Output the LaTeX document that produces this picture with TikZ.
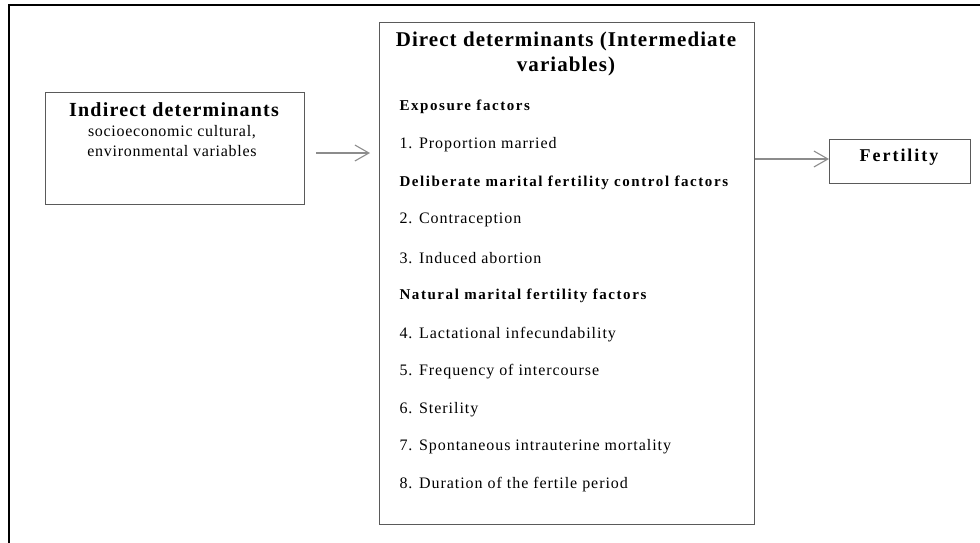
\documentclass[tikz,border=0pt]{standalone}
\usepackage{fontspec}
\setmainfont{Liberation Serif}
% spaced variants of the serif face
\newfontfamily\itemfont[LetterSpace=6]{Liberation Serif}
\newfontfamily\grpfont[LetterSpace=10.5]{Liberation Serif}
\newfontfamily\subfont[LetterSpace=4.5]{Liberation Serif}
\newfontfamily\titlefont[LetterSpace=5]{Liberation Serif}
\newfontfamily\indfont[LetterSpace=6]{Liberation Serif}
\newfontfamily\ferfont[LetterSpace=11]{Liberation Serif}
\usetikzlibrary{arrows.meta}
\definecolor{boxline}{HTML}{5A5A5A}
\definecolor{arrowgray}{HTML}{8C8C8C}
\begin{document}
\begin{tikzpicture}[x=1pt,y=-1pt,
  box/.style={draw=boxline,line width=1.1pt,inner sep=0pt,anchor=north west},
  sub/.style={font=\subfont\fontsize{16}{20}\selectfont,align=center},
  groupname/.style={anchor=west,font=\grpfont\bfseries\fontsize{15}{16}\selectfont},
  item/.style={anchor=west,font=\itemfont\fontsize{16}{16}\selectfont},
  flow/.style={draw=arrowgray,line width=1.1pt,-{Straight Barb[length=14pt,width=16pt,line width=1.1pt]}}]
\useasboundingbox (0,0) rectangle (980,542);
% outer frame (top and left edges only)
\draw[line width=2.2pt] (9,543) -- (9,5) -- (981,5);

% boxes
\node[box,minimum width=259pt,minimum height=112pt] (ind) at (45,92) {};
\node[box,minimum width=375pt,minimum height=502pt] (dir) at (379,22) {};
\node[box,minimum width=141pt,minimum height=44pt] (fer) at (829,139) {};

% indirect determinants
\node[font=\indfont\bfseries\fontsize{20}{22}\selectfont] (indt) at (174,110) {Indirect determinants};
\node[sub] (inds) at (172,141) {socioeconomic cultural,\\environmental variables};

% direct determinants
\node[font=\titlefont\bfseries\fontsize{21}{25}\selectfont,align=center] (dirt) at (566,54) {Direct determinants (Intermediate\\variables)};
\node[groupname] (g1) at (396,107) {Exposure factors};
\node[item] (i1) at (396,145) {1. Proportion married};
\node[groupname] (g2) at (396,183) {Deliberate marital fertility control factors};
\node[item] (i2) at (396,220) {2. Contraception};
\node[item] (i3) at (396,258) {3. Induced abortion};
\node[groupname] (g3) at (396,296) {Natural marital fertility factors};
\node[item] (i4) at (396,335) {4. Lactational infecundability};
\node[item] (i5) at (396,372) {5. Frequency of intercourse};
\node[item] (i6) at (396,410) {6. Sterility};
\node[item] (i7) at (396,447) {7. Spontaneous intrauterine mortality};
\node[item] (i8) at (396,485) {8. Duration of the fertile period};

% fertility
\node[font=\ferfont\bfseries\fontsize{18}{20}\selectfont] (fert) at (899,157) {Fertility};

% connectors
\coordinate (a1s) at (316,153);
\coordinate (a1e) at (370,153);
\draw[flow] (a1s) -- (a1e);
\draw[flow] (dir.east |- 0,159) -- (fer.west |- 0,159);
\end{tikzpicture}
\end{document}
